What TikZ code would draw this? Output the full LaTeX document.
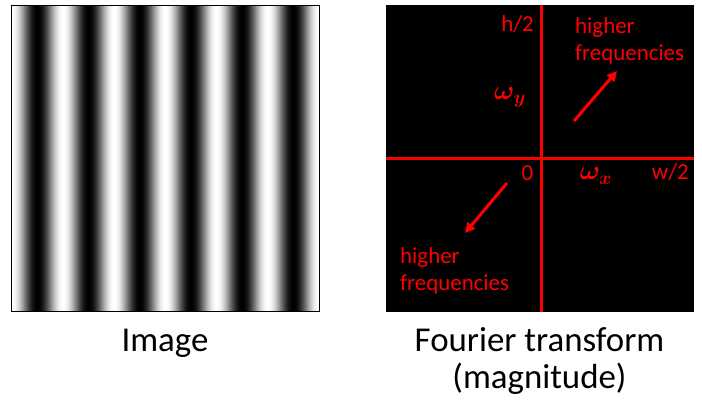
\documentclass[tikz,border=0pt]{standalone}
\usepackage{fix-cm}
\usepackage{fontspec}
\setmainfont{Carlito}
\usetikzlibrary{arrows.meta}
\definecolor{fred}{HTML}{FF0000}

\begin{document}
\begin{tikzpicture}[
    x=1bp, y=-1bp,
    >={Triangle[length=10bp,width=10bp]},
    line cap=butt, line join=miter,
    caption/.style={font=\fontsize{35}{37}\selectfont, align=center, inner sep=0pt},
    flbl/.style={text=fred, font=\fontsize{23}{27.5}\selectfont, inner sep=0pt},
    wlbl/.style={text=fred, font=\fontsize{27}{30}\selectfont\boldmath, inner sep=0pt},
    freqaxis/.style={fred, line width=3bp},
    freqarrow/.style={fred, line width=3bp, ->},
]
\useasboundingbox (0,0) rectangle (702,406);

% ============================================================
% Geometry constants (pixels of the page)
% ============================================================
\def\Lx{11.5}
\def\Rx{319}
\def\Ty{5.5}
\def\By{311}
\def\degpx{7.03125} % 360 / period of 51.2 px

% ============================================================
% Left panel: vertical cosine grating
% ============================================================
\begin{scope}
  \clip (\Lx,\Ty) rectangle (\Rx,\By);
  \foreach \i in {0,...,307}{
    \pgfmathsetmacro\tone{50+50*cos(\degpx*(\i+0.5))}
    \fill[white!\tone!black] (\Lx+\i,\Ty) rectangle ++(1.1,\By-\Ty);
  }
\end{scope}
\draw[black, line width=1bp] (\Lx,\Ty) rectangle (\Rx,\By);

% ============================================================
% Right panel: magnitude spectrum with frequency axes
% ============================================================
\coordinate (FTnw) at (386,5);
\coordinate (FTse) at (693.5,312);
\coordinate (O)    at (541,158);
\fill[black] (FTnw) rectangle (FTse);

\draw[freqaxis] (FTnw |- O) -- (FTse |- O);
\draw[freqaxis] (O |- FTnw) -- (O |- FTse);

% Axis labels
\node[flbl, anchor=base east] (hhalf) at (534,31)  {h/2};
\node[flbl, anchor=base east] (whalf) at (689,179) {w/2};
\node[flbl, anchor=base]      (zero)  at (527.5,180) {0};
\node[wlbl] (wy) at (510,97)  {$\omega_y$};
\node[wlbl] (wx) at (596,176) {$\omega_x$};

% Higher-frequency hints
\node[flbl, anchor=north west, align=left] (hiNE) at (575,17)  {higher\\frequencies};
\node[flbl, anchor=north west, align=left] (hiSW) at (400,247) {higher\\frequencies};
\coordinate (neTail) at (574,121);
\coordinate (neHead) at (617,71);
\coordinate (swTail) at (507,183);
\coordinate (swHead) at (465,233);
\draw[freqarrow] (neTail) -- (neHead);
\draw[freqarrow] (swTail) -- (swHead);

% ============================================================
% Captions
% ============================================================
\node[caption, anchor=base] (capImg) at (165,351) {Image};
\node[caption, anchor=base] (capFT)  at (539.5,388) {Fourier transform\\(magnitude)};

\end{tikzpicture}
\end{document}
